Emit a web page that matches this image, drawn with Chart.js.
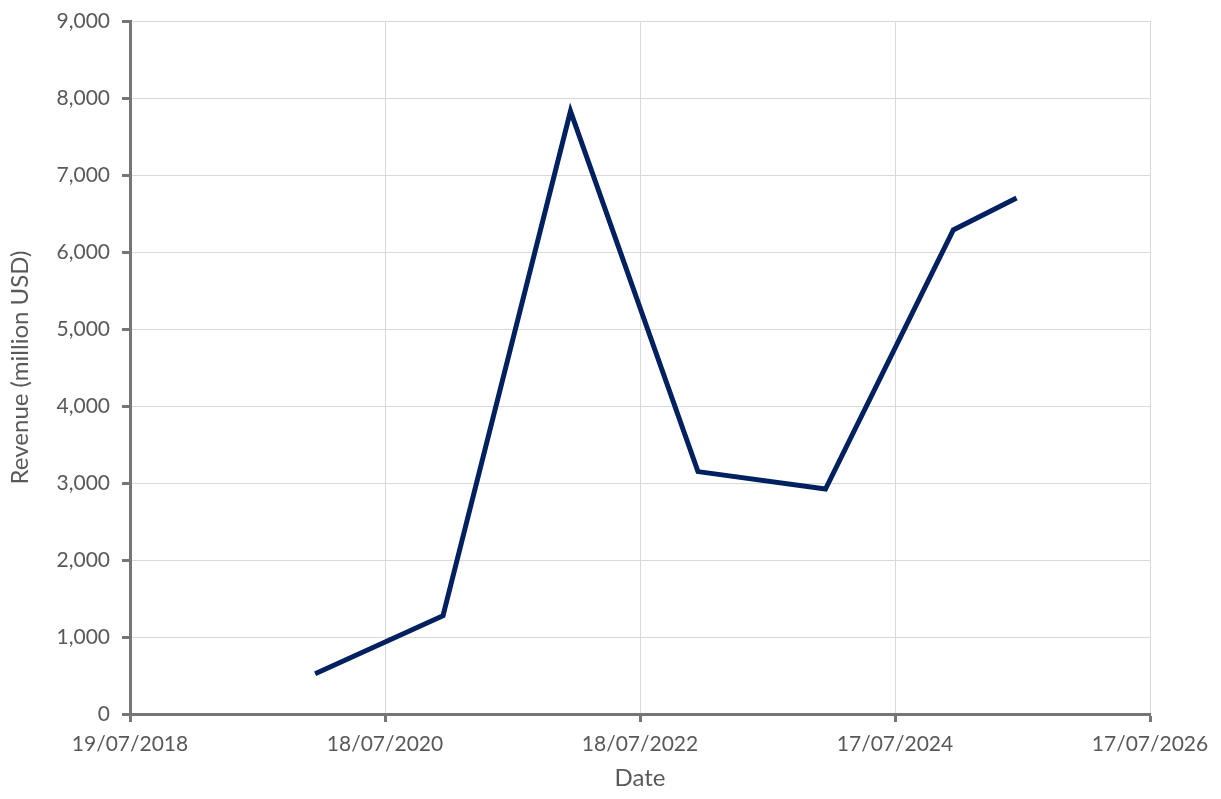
<!DOCTYPE html>
<html>
<head>
<meta charset="utf-8">
<script src="https://cdn.jsdelivr.net/npm/chart.js@4.4.1/dist/chart.umd.min.js"></script>
<style>
    html, body { margin: 0; padding: 0; background: #ffffff; }
    #wrap { width: 1221px; height: 799px; position: relative; }
</style>
</head>
<body>
<div id="wrap"><canvas id="revenueChart"></canvas></div>
<script>
// ===== 数据 =====
const dates = ['2019-12-31', '2020-12-31', '2021-12-31', '2022-12-31', '2023-12-31', '2024-12-31', '2025-06-30'];
const revenue = [523, 1275, 7830, 3148, 2921, 6287, 6700];

// x 轴刻度（Excel 日期轴：起点 19/07/2018，步长 730 天）
const axisStart = '2018-07-19';
const axisEnd = '2026-07-17';
const axisStepDays = 730;

// y 轴刻度
const yMin = 0;
const yMax = 9000;
const yStep = 1000;

const DAY = 86400000;

function toDays(str) {
    const p = str.split('-').map(Number);
    return Math.round((Date.UTC(p[0], p[1] - 1, p[2]) - Date.UTC(2018, 6, 19)) / DAY);
}

function formatDate(days) {
    const d = new Date(Date.UTC(2018, 6, 19) + days * DAY);
    const dd = String(d.getUTCDate()).padStart(2, '0');
    const mm = String(d.getUTCMonth() + 1).padStart(2, '0');
    return `${dd}/${mm}/${d.getUTCFullYear()}`;
}

const points = dates.map((d, i) => ({ x: toDays(d), y: revenue[i] }));

const textColor = '#595959';
const axisColor = '#767676';
const gridColor = '#d9d9d9';
const fontFamily = 'Lato, "Open Sans", sans-serif';

const ctx = document.getElementById('revenueChart').getContext('2d');
new Chart(ctx, {
    type: 'line',
    data: {
        datasets: [{
            label: 'Revenue',
            data: points,
            borderColor: '#002060',
            backgroundColor: '#002060',
            borderWidth: 5,
            pointRadius: 0,
            tension: 0,
            borderJoinStyle: 'miter'
        }]
    },
    options: {
        responsive: true,
        maintainAspectRatio: false,
        animation: false,
        layout: {
            padding: { top: 21, right: 71, left: 0, bottom: 0 }
        },
        plugins: {
            legend: { display: false },
            tooltip: { enabled: false }
        },
        scales: {
            x: {
                type: 'linear',
                min: toDays(axisStart),
                max: toDays(axisEnd),
                afterFit: function(scale) { scale.height = 85; },
                grid: {
                    color: gridColor,
                    lineWidth: 1,
                    drawTicks: true,
                    tickLength: 8,
                    tickColor: axisColor,
                    tickWidth: 3
                },
                border: { display: true, color: axisColor, width: 3 },
                ticks: {
                    stepSize: axisStepDays,
                    color: textColor,
                    padding: 10,
                    maxRotation: 0,
                    autoSkip: false,
                    font: { family: fontFamily, size: 21 },
                    callback: function(value) { return formatDate(value); }
                },
                title: {
                    display: true,
                    text: 'Date',
                    color: textColor,
                    padding: { top: 0, bottom: 6 },
                    font: { family: fontFamily, size: 24 }
                }
            },
            y: {
                min: yMin,
                max: yMax,
                afterFit: function(scale) {
                    scale.width = 130;
                    scale.paddingTop = 0;
                    scale.paddingBottom = 0;
                },
                grid: {
                    color: gridColor,
                    lineWidth: 1,
                    drawTicks: true,
                    tickLength: 8,
                    tickColor: axisColor,
                    tickWidth: 3
                },
                border: { display: true, color: axisColor, width: 3 },
                ticks: {
                    stepSize: yStep,
                    color: textColor,
                    padding: 12,
                    font: { family: fontFamily, size: 21 },
                    callback: function(value) { return value.toLocaleString('en-US'); }
                },
                title: {
                    display: true,
                    text: 'Revenue (million USD)',
                    color: textColor,
                    padding: { top: 6, bottom: 4 },
                    font: { family: fontFamily, size: 24 }
                }
            }
        }
    }
});
</script>
</body>
</html>
